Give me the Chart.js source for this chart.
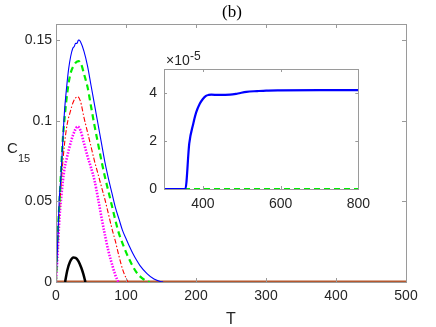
<!DOCTYPE html>
<html>
<head>
<meta charset="utf-8">
<script src="https://cdn.jsdelivr.net/npm/chart.js@4.4.1/dist/chart.umd.min.js"></script>
<style>
  body { margin: 0; background: #fff; }
  #wrap { position: relative; width: 436px; height: 327px; }
  #main { position: absolute; left: 0; top: 0; }
  #inset { position: absolute; left: 130px; top: 45px; }
</style>
</head>
<body>
<div id="wrap">
  <canvas id="main" width="436" height="327"></canvas>
  <canvas id="inset" width="247" height="175"></canvas>
</div>
<script>
// main plot data: C15 against T
const blueT = [0, 2, 4.5, 7, 10, 12, 15, 18, 21, 24, 26, 28, 30, 32, 33, 35, 40, 45, 50, 55, 60, 65, 70, 75, 80, 85, 90, 95, 100, 105, 110, 115, 120, 130, 140, 150, 153];
const blueC = [0, 0.02, 0.05, 0.065, 0.09, 0.105, 0.12, 0.132, 0.14, 0.145, 0.146, 0.148, 0.148, 0.15, 0.15, 0.149, 0.143, 0.134, 0.122, 0.110, 0.098, 0.086, 0.074, 0.064, 0.055, 0.046, 0.039, 0.032, 0.027, 0.022, 0.0175, 0.0136, 0.0102, 0.0052, 0.0018, 0.0002, 0];

const greenT = [0, 2, 5, 8, 10, 13, 16, 20, 25, 32, 36, 40, 45, 50, 55, 60, 65, 70, 75, 80, 85, 90, 95, 100, 105, 110, 115, 120, 125, 130, 134];
const greenC = [0, 0.025, 0.05, 0.075, 0.09, 0.105, 0.117, 0.128, 0.134, 0.137, 0.135, 0.129, 0.121, 0.109, 0.097, 0.086, 0.075, 0.065, 0.056, 0.047, 0.038, 0.030, 0.024, 0.0185, 0.0138, 0.0095, 0.006, 0.0035, 0.0017, 0.0005, 0];

const redT = [0, 2, 5, 8, 12, 16, 20, 25, 31, 35, 40, 45, 50, 55, 60, 65, 70, 75, 80, 85, 90, 95, 100, 103];
const redC = [0, 0.02, 0.045, 0.065, 0.085, 0.098, 0.105, 0.112, 0.115, 0.112, 0.102, 0.093, 0.084, 0.075, 0.067, 0.059, 0.051, 0.042, 0.033, 0.025, 0.016, 0.008, 0.0025, 0];

const magentaT = [0, 2, 5, 8, 12, 15, 22, 27, 31, 35, 40, 45, 50, 55, 60, 65, 70, 75, 80, 85, 89];
const magentaC = [0, 0.015, 0.04, 0.055, 0.07, 0.076, 0.088, 0.094, 0.0965, 0.094, 0.086, 0.078, 0.071, 0.063, 0.052, 0.040, 0.029, 0.019, 0.011, 0.004, 0];

const blackT = [13, 16, 20, 25, 28, 32, 36, 39, 42];
const blackC = [0, 0.007, 0.0125, 0.0152, 0.015, 0.013, 0.009, 0.005, 0];

const brownT = [0, 500];
const brownC = [0, 0];

const mainXTicks = [0, 100, 200, 300, 400, 500];
const mainYTicks = [0, 0.05, 0.1, 0.15];
const mainYLabels = ['0', '0.05', '0.1', '0.15'];

// inset data (units of 1e-5)
const insetBlueT = [300, 355, 365, 375, 383, 392, 400, 408, 415, 422, 440, 470, 490, 512, 540, 563, 600, 700, 800];
const insetBlueC = [0, 0, 1.9, 2.7, 3.2, 3.55, 3.75, 3.88, 3.92, 3.93, 3.92, 3.93, 3.98, 4.05, 4.08, 4.10, 4.11, 4.12, 4.12];
const insetGreenT = [300, 800];
const insetGreenC = [0, 0];
const insetXTicks = [400, 600, 800];
const insetYTicks = [0, 2, 4];

function pts(xs, ys) {
  return xs.map((x, i) => ({x: x, y: ys[i]}));
}

const FONT = "'Liberation Sans', Arial, sans-serif";
const TXT = '#262626';

// box round the plot area with inward ticks on all four sides
function boxPlugin(tickLen) {
  return {
    id: 'box',
    afterDatasetsDraw(chart) {
      const ctx = chart.ctx;
      const a = chart.chartArea;
      const sx = chart.scales.x, sy = chart.scales.y;
      ctx.save();
      ctx.strokeStyle = '#9a9a9a';
      ctx.lineWidth = 1;
      ctx.strokeRect(Math.round(a.left) + 0.5, Math.round(a.top) + 0.5,
                     Math.round(a.right - a.left), Math.round(a.bottom - a.top));
      ctx.beginPath();
      sx.ticks.forEach(t => {
        const px = Math.round(sx.getPixelForValue(t.value)) + 0.5;
        ctx.moveTo(px, a.bottom); ctx.lineTo(px, a.bottom - tickLen);
        ctx.moveTo(px, a.top); ctx.lineTo(px, a.top + tickLen);
      });
      sy.ticks.forEach(t => {
        const py = Math.round(sy.getPixelForValue(t.value)) + 0.5;
        ctx.moveTo(a.left, py); ctx.lineTo(a.left + tickLen, py);
        ctx.moveTo(a.right, py); ctx.lineTo(a.right - tickLen, py);
      });
      ctx.stroke();
      ctx.restore();
    }
  };
}

const mainText = {
  id: 'mainText',
  afterDraw(chart) {
    const ctx = chart.ctx;
    ctx.save();
    ctx.fillStyle = '#000';
    ctx.textAlign = 'center';
    ctx.textBaseline = 'alphabetic';
    ctx.font = "17px 'Liberation Serif', 'DejaVu Serif', serif";
    ctx.fillText('(b)', 232, 17);
    ctx.fillStyle = TXT;
    ctx.font = '16px ' + FONT;
    ctx.fillText('T', 231, 324);
    ctx.textAlign = 'left';
    ctx.font = '15px ' + FONT;
    ctx.fillText('C', 7, 153);
    ctx.font = '11px ' + FONT;
    ctx.fillText('15', 18, 162);
    ctx.restore();
  }
};

function line(data, color, width, dash) {
  return {
    data: data, borderColor: color, borderWidth: width, borderDash: dash || [],
    pointRadius: 0, fill: false, tension: 0, cubicInterpolationMode: 'monotone'
  };
}

const noGrid = {display: false, drawTicks: false};

new Chart(document.getElementById('main'), {
  type: 'line',
  data: {
    datasets: [
      line(pts(blueT, blueC), '#0000ff', 1.1),
      line(pts(greenT, greenC), '#00ee00', 2.2, [6, 4]),
      line(pts(redT, redC), '#ff0000', 1.1, [5, 2, 1.5, 2]),
      line(pts(magentaT, magentaC), '#ff00ff', 2.6, [1.5, 1.5]),
      line(pts(blackT, blackC), '#000000', 2.5),
      line(pts(brownT, brownC), '#b5582f', 3)
    ]
  },
  options: {
    responsive: false,
    animation: false,
    devicePixelRatio: 1,
    layout: {padding: {top: 24, right: 30, left: 0, bottom: 0}},
    plugins: {legend: {display: false}, tooltip: {enabled: false}},
    scales: {
      x: {
        type: 'linear', min: 0, max: 500,
        afterBuildTicks: s => { s.ticks = mainXTicks.map(v => ({value: v})); },
        afterFit: s => { s.height = 45; },
        grid: noGrid,
        border: {display: false},
        ticks: {color: TXT, font: {family: FONT, size: 14}, padding: 6, maxRotation: 0}
      },
      y: {
        type: 'linear', min: 0, max: 0.16,
        afterBuildTicks: s => { s.ticks = mainYTicks.map(v => ({value: v})); },
        afterFit: s => { s.width = 56; },
        grid: noGrid,
        border: {display: false},
        ticks: {color: TXT, font: {family: FONT, size: 14}, padding: 4,
                callback: (v, i) => mainYLabels[i]}
      }
    }
  },
  plugins: [boxPlugin(4), mainText]
});

const insetText = {
  id: 'insetText',
  beforeDatasetsDraw(chart) {
    const ctx = chart.ctx;
    const a = chart.chartArea;
    ctx.save();
    ctx.fillStyle = '#fff';
    ctx.fillRect(a.left, a.top, a.right - a.left, a.bottom - a.top);
    ctx.restore();
  },
  afterDraw(chart) {
    const ctx = chart.ctx;
    ctx.save();
    ctx.fillStyle = TXT;
    ctx.textAlign = 'left';
    ctx.textBaseline = 'alphabetic';
    ctx.font = '14px ' + FONT;
    ctx.fillText('\u00d710', 36, 20);
    ctx.font = '12px ' + FONT;
    ctx.fillText('-5', 60, 15);
    ctx.restore();
  }
};

new Chart(document.getElementById('inset'), {
  type: 'line',
  data: {
    datasets: [
      line(pts(insetBlueT, insetBlueC), '#0000ff', 2.2),
      line(pts(insetGreenT, insetGreenC), '#00ee00', 2.2, [6, 4])
    ]
  },
  options: {
    responsive: false,
    animation: false,
    devicePixelRatio: 1,
    layout: {padding: {top: 24, right: 0, left: 0, bottom: 0}},
    plugins: {legend: {display: false}, tooltip: {enabled: false}},
    scales: {
      x: {
        type: 'linear', min: 300, max: 800,
        afterBuildTicks: s => { s.ticks = insetXTicks.map(v => ({value: v})); },
        afterFit: s => { s.height = 31; },
        grid: noGrid,
        border: {display: false},
        ticks: {color: TXT, font: {family: FONT, size: 14}, padding: 7, maxRotation: 0}
      },
      y: {
        type: 'linear', min: 0, max: 5,
        afterBuildTicks: s => { s.ticks = insetYTicks.map(v => ({value: v})); },
        afterFit: s => { s.width = 34; },
        grid: noGrid,
        border: {display: false},
        ticks: {color: TXT, font: {family: FONT, size: 14}, padding: 7}
      }
    }
  },
  plugins: [boxPlugin(3), insetText]
});
</script>
</body>
</html>
